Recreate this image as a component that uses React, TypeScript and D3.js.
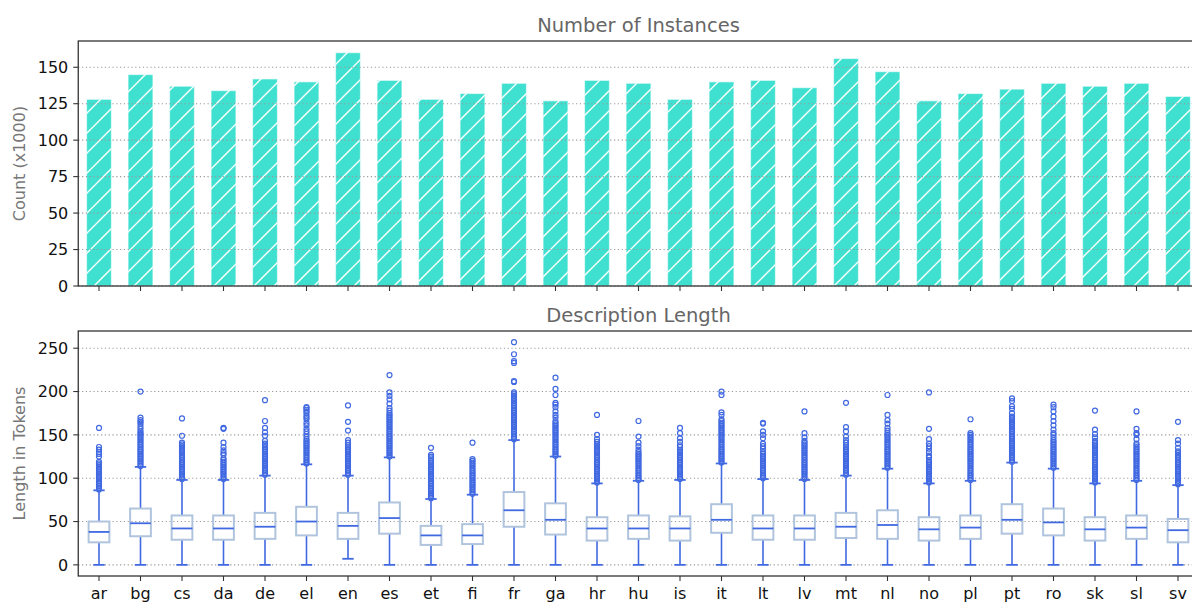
import React from 'react';
import * as d3 from 'd3';

// languages on the x axis (shared by both panels)
const categories = ['ar', 'bg', 'cs', 'da', 'de', 'el', 'en', 'es', 'et', 'fi', 'fr', 'ga', 'hr', 'hu', 'is', 'it', 'lt', 'lv', 'mt', 'nl', 'no', 'pl', 'pt', 'ro', 'sk', 'sl', 'sv'];

// top panel: number of instances (x1000)
const instanceCounts = [128, 145, 137, 134, 142, 140, 160, 141, 128, 132, 139, 127, 141, 139, 128, 140, 141, 136, 156, 147, 127, 132, 135, 139, 137, 139, 130];
const countTicks = [0, 25, 50, 75, 100, 125, 150];

// bottom panel: description length box stats
const q1 = [26, 33, 29, 29, 30, 34, 30, 36, 23, 24, 44, 35, 28, 30, 28, 37, 29, 29, 31, 30, 28, 30, 36, 34, 28, 30, 26];
const medians = [38, 48, 42, 42, 44, 50, 45, 54, 34, 34, 63, 52, 42, 42, 42, 52, 42, 42, 44, 46, 41, 43, 52, 49, 41, 43, 40];
const q3 = [50, 65, 57, 57, 60, 67, 60, 72, 45, 47, 84, 71, 55, 57, 56, 70, 57, 57, 60, 63, 55, 57, 70, 65, 55, 57, 53];
const whiskerLow = [0, 0, 0, 0, 0, 0, 7, 0, 0, 0, 0, 0, 0, 0, 0, 0, 0, 0, 0, 0, 0, 0, 0, 0, 0, 0, 0];
const whiskerHigh = [86, 113, 98, 98, 103, 116, 103, 124, 76, 81, 144, 125, 94, 97, 98, 117, 99, 98, 103, 111, 94, 97, 118, 111, 94, 97, 92];
const outliers = [
  [87, 89, 91, 93, 95, 97, 99, 101, 103, 105, 107, 109, 111, 113, 115, 117, 119, 125, 128, 130, 133, 136, 158],
  [114, 116, 118, 120, 122, 124, 126, 128, 130, 132, 134, 136, 138, 140, 142, 144, 146, 148, 150, 152, 154, 157, 160, 163, 165, 167, 170, 200],
  [99, 101, 103, 105, 107, 109, 111, 113, 115, 117, 119, 121, 123, 125, 127, 129, 131, 133, 135, 137, 139, 141, 149, 169],
  [99, 101, 103, 105, 107, 109, 111, 113, 115, 117, 119, 121, 123, 127, 129, 132, 136, 141, 157, 158],
  [104, 106, 108, 110, 112, 114, 116, 118, 120, 122, 124, 126, 128, 130, 132, 134, 136, 138, 140, 143, 149, 153, 158, 166, 190],
  [117, 119, 121, 123, 125, 127, 129, 131, 133, 135, 137, 139, 141, 143, 145, 148, 151, 154, 157, 161, 164, 168, 170, 172, 175, 177, 179, 181, 182],
  [104, 106, 108, 110, 112, 114, 116, 118, 120, 122, 124, 126, 128, 130, 132, 134, 136, 138, 141, 144, 155, 165, 184],
  [125, 127, 129, 131, 133, 135, 137, 139, 141, 143, 145, 147, 149, 151, 153, 155, 157, 159, 161, 163, 165, 167, 169, 171, 173, 175, 178, 181, 186, 191, 195, 199, 219],
  [77, 79, 81, 83, 85, 87, 89, 91, 93, 95, 97, 99, 101, 103, 105, 107, 109, 111, 113, 115, 117, 120, 123, 125, 127, 135],
  [82, 84, 86, 88, 90, 92, 94, 96, 98, 100, 102, 104, 106, 108, 110, 112, 114, 116, 118, 120, 122, 141],
  [145, 147, 149, 151, 153, 155, 157, 159, 161, 163, 165, 167, 169, 171, 173, 175, 177, 179, 181, 183, 185, 187, 189, 191, 193, 195, 197, 199, 211, 212, 233, 235, 243, 257],
  [126, 128, 130, 132, 134, 136, 138, 140, 142, 144, 146, 148, 150, 152, 154, 156, 158, 160, 162, 164, 166, 170, 173, 177, 182, 185, 187, 196, 203, 216],
  [95, 97, 99, 101, 103, 105, 107, 109, 111, 113, 115, 117, 119, 121, 123, 125, 127, 129, 131, 133, 135, 137, 139, 142, 145, 150, 173],
  [98, 100, 102, 104, 106, 108, 110, 112, 114, 116, 118, 120, 122, 124, 126, 128, 130, 133, 137, 141, 148, 166],
  [99, 101, 103, 105, 107, 109, 111, 113, 115, 117, 119, 121, 123, 125, 127, 129, 131, 133, 136, 138, 142, 146, 152, 158],
  [118, 120, 122, 124, 126, 128, 130, 132, 134, 136, 138, 140, 142, 144, 146, 148, 150, 152, 154, 156, 158, 160, 162, 164, 166, 168, 173, 176, 196, 200],
  [100, 102, 104, 106, 108, 110, 112, 114, 116, 118, 120, 122, 124, 126, 128, 130, 134, 137, 140, 146, 150, 154, 163, 164],
  [99, 101, 103, 105, 107, 109, 111, 113, 115, 117, 119, 121, 123, 125, 127, 129, 131, 133, 135, 137, 139, 141, 143, 147, 152, 177],
  [104, 106, 108, 110, 112, 114, 116, 118, 120, 122, 124, 126, 128, 130, 132, 134, 136, 138, 141, 144, 148, 154, 159, 187],
  [112, 114, 116, 118, 120, 122, 124, 126, 128, 130, 132, 134, 136, 138, 140, 142, 144, 146, 148, 150, 152, 155, 158, 163, 167, 173, 196],
  [95, 97, 99, 101, 103, 105, 107, 109, 111, 113, 115, 117, 119, 121, 124, 126, 130, 134, 137, 140, 145, 157, 199],
  [98, 100, 102, 104, 106, 108, 110, 112, 114, 116, 118, 120, 122, 124, 126, 128, 130, 132, 134, 136, 138, 140, 142, 144, 146, 148, 150, 152, 168],
  [119, 121, 123, 125, 127, 129, 131, 133, 135, 137, 139, 141, 143, 145, 147, 149, 151, 153, 155, 157, 159, 161, 163, 165, 167, 169, 171, 175, 180, 183, 189, 192],
  [112, 114, 116, 118, 120, 122, 124, 126, 128, 130, 132, 134, 136, 138, 140, 142, 144, 147, 150, 152, 156, 161, 166, 171, 177, 182, 185],
  [95, 97, 99, 101, 103, 105, 107, 109, 111, 113, 115, 117, 119, 121, 123, 125, 127, 129, 131, 133, 135, 137, 139, 141, 143, 147, 151, 156, 178],
  [98, 100, 102, 104, 106, 108, 110, 112, 114, 116, 118, 120, 122, 124, 126, 128, 130, 132, 134, 136, 138, 140, 145, 150, 152, 157, 177],
  [93, 95, 97, 99, 101, 103, 105, 107, 109, 111, 113, 115, 117, 119, 121, 123, 125, 127, 129, 131, 135, 140, 144, 165],
];
const lengthTicks = [0, 50, 100, 150, 200, 250];

const W = 1192;
const H = 602;
const FONT = 'DejaVu Sans, sans-serif';
const TURQ = '#40e0d0';
const BLUE = '#4169e1';
const STEEL = '#b0c4de';
const SPINE = '#333';

const x = d3.scaleBand<string>().domain(categories).range([78.25, 1198.75]).padding(0);
const cx = (c: string) => (x(c) as number) + x.bandwidth() / 2;

const topPanel = { top: 41, bottom: 286 };
const botPanel = { top: 331, bottom: 576 };
const yCount = d3.scaleLinear().domain([0, 168]).range([topPanel.bottom, topPanel.top]);
const yLen = d3.scaleLinear().domain([-12.85, 269.85]).range([botPanel.bottom, botPanel.top]);

const HS = 20; // hatch spacing

function Frame({ top, bottom }: { top: number; bottom: number }) {
  const [x0, x1] = x.range();
  return (
    <rect x={x0} y={top} width={x1 - x0} height={bottom - top} fill="none" stroke={SPINE} strokeWidth={1.3} />
  );
}

// dotted horizontal gridlines (drawn above the marks, as in the source)
function Grid({ scale, ticks }: { scale: d3.ScaleLinear<number, number>; ticks: number[] }) {
  const [x0, x1] = x.range();
  return (
    <g>
      {ticks.map((t) => (
        <line key={t} x1={x0} x2={x1} y1={scale(t)} y2={scale(t)} stroke="#999" strokeWidth={1.1} strokeDasharray="1.2,2.6" />
      ))}
    </g>
  );
}

function YAxis({ scale, ticks, label, mid }: { scale: d3.ScaleLinear<number, number>; ticks: number[]; label: string; mid: number }) {
  const x0 = x.range()[0];
  return (
    <g fontFamily={FONT}>
      {ticks.map((t) => (
        <g key={t}>
          <line x1={x0 - 5} x2={x0} y1={scale(t)} y2={scale(t)} stroke={SPINE} strokeWidth={1.1} />
          <text x={x0 - 10} y={scale(t)} dy="0.36em" textAnchor="end" fontSize={16} fill="#111">{t}</text>
        </g>
      ))}
      <text transform={`translate(24.6,${mid}) rotate(-90)`} textAnchor="middle" fontSize={16} fill="#777">{label}</text>
    </g>
  );
}

function XTicks({ y, labels }: { y: number; labels: boolean }) {
  return (
    <g fontFamily={FONT}>
      {categories.map((c) => (
        <g key={c}>
          <line x1={cx(c)} x2={cx(c)} y1={y} y2={y + 5} stroke={SPINE} strokeWidth={1.1} />
          {labels && (
            <text x={cx(c)} y={599} textAnchor="middle" fontSize={16} fill="#111">{c}</text>
          )}
        </g>
      ))}
    </g>
  );
}

export default function App() {
  const bw = x.bandwidth();
  const barW = bw * 0.6;
  const boxW = bw * 0.5;
  const capW = bw * 0.25;
  const titleX = (x.range()[0] + x.range()[1]) / 2;

  return (
    <svg width={W} height={H} style={{ position: 'absolute', left: 0, top: 0, background: '#fff' }}>
      <defs>
        <pattern id="hatch" patternUnits="userSpaceOnUse" width={HS} height={HS}>
          <path
            d={`M-2,2 L2,-2 M0,${HS} L${HS},0 M${HS - 2},${HS + 2} L${HS + 2},${HS - 2}`}
            stroke="#fff"
            strokeWidth={1.4}
          />
        </pattern>
      </defs>

      {/* top panel */}
      <text x={titleX} y={31.5} textAnchor="middle" fontFamily={FONT} fontSize={19.5} fill="#666">Number of Instances</text>
      <YAxis scale={yCount} ticks={countTicks} label="Count (x1000)" mid={163.5} />
      {categories.map((c, i) => {
        const bx = cx(c) - barW / 2;
        const by = yCount(instanceCounts[i]);
        const bh = yCount(0) - by;
        return (
          <g key={c}>
            <rect x={bx} y={by} width={barW} height={bh} fill={TURQ} />
            <rect x={bx} y={by} width={barW} height={bh} fill="url(#hatch)" />
            <rect x={bx} y={by} width={barW} height={bh} fill="none" stroke="#fff" strokeOpacity={0.55} strokeWidth={1.2} />
          </g>
        );
      })}
      <Grid scale={yCount} ticks={countTicks} />
      <XTicks y={topPanel.bottom} labels={false} />
      <Frame {...topPanel} />

      {/* bottom panel */}
      <text x={titleX} y={321.5} textAnchor="middle" fontFamily={FONT} fontSize={19.5} fill="#666">Description Length</text>
      <YAxis scale={yLen} ticks={lengthTicks} label="Length in Tokens" mid={453.5} />
      <Grid scale={yLen} ticks={lengthTicks} />
      {categories.map((c, i) => {
        const mx = cx(c);
        return (
          <g key={c}>
            <line x1={mx} x2={mx} y1={yLen(q1[i])} y2={yLen(whiskerLow[i])} stroke={BLUE} strokeWidth={1.6} />
            <line x1={mx} x2={mx} y1={yLen(q3[i])} y2={yLen(whiskerHigh[i])} stroke={BLUE} strokeWidth={1.6} />
            <line x1={mx - capW / 2 - 0.5} x2={mx + capW / 2 + 0.5} y1={yLen(whiskerLow[i])} y2={yLen(whiskerLow[i])} stroke={BLUE} strokeWidth={1.8} />
            <line x1={mx - capW / 2 - 0.5} x2={mx + capW / 2 + 0.5} y1={yLen(whiskerHigh[i])} y2={yLen(whiskerHigh[i])} stroke={BLUE} strokeWidth={1.8} />
            <rect x={mx - boxW / 2} y={yLen(q3[i])} width={boxW} height={yLen(q1[i]) - yLen(q3[i])} fill="none" stroke={STEEL} strokeWidth={2} />
            <line x1={mx - boxW / 2} x2={mx + boxW / 2} y1={yLen(medians[i])} y2={yLen(medians[i])} stroke={BLUE} strokeWidth={1.8} />
            {outliers[i].map((v, j) => (
              <circle key={j} cx={mx} cy={yLen(v)} r={2.5} fill="none" stroke={BLUE} strokeWidth={1.2} />
            ))}
          </g>
        );
      })}
      <XTicks y={botPanel.bottom} labels={true} />
      <Frame {...botPanel} />
    </svg>
  );
}
